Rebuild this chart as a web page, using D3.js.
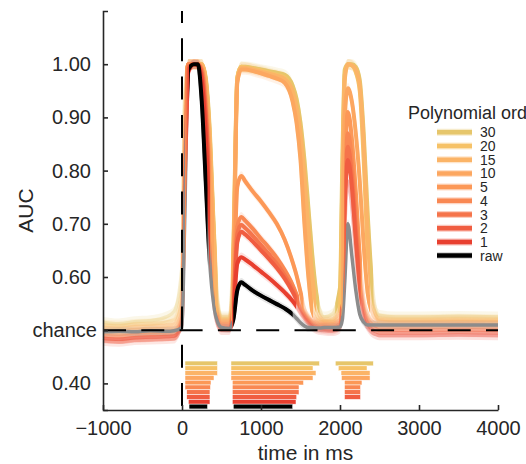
<!DOCTYPE html>
<html>
<head>
<meta charset="utf-8">
<script src="https://cdn.jsdelivr.net/npm/d3@7"></script>
<style>
  body { margin: 0; background: #fff; }
  text { font-family: "Liberation Sans", Arial, sans-serif; fill: #262626; }
</style>
</head>
<body>
<div id="chart"></div>
<script>
// time points (ms), shared by every series
var times = [-1000, -800, -600, -400, -200, -100, 0, 30, 80, 150, 200, 250, 300, 350, 400, 450, 500,
  600, 650, 700, 750, 800, 900, 1000, 1100, 1200, 1300, 1400, 1450, 1500, 1550, 1600, 1650, 1700, 1750, 1800,
  1900, 2000, 2030, 2060, 2100, 2150, 2200, 2250, 2300, 2350, 2400, 2450, 2500, 2700, 3000, 3500, 4000];

var orders = ["30", "20", "15", "10", "5", "4", "3", "2", "1", "raw"];
var colors = ["#e6c66b", "#f6c267", "#fbb467", "#fca760", "#fc9857", "#f98853", "#f5744b", "#f05d41", "#e83f2f", "#000000"];

// AUC per polynomial order
var auc30 = [0.515, 0.512, 0.516, 0.518, 0.525, 0.535, 0.62, 0.93, 1.0, 1.0, 1.0, 1.0, 0.975, 0.88, 0.70, 0.56, 0.525,
  0.525, 0.66, 0.975, 0.995, 0.995, 0.993, 0.99, 0.987, 0.984, 0.98, 0.96, 0.935, 0.89, 0.82, 0.73, 0.64, 0.57, 0.535, 0.525,
  0.53, 0.58, 0.82, 0.99, 1.0, 1.0, 0.995, 0.97, 0.87, 0.72, 0.60, 0.54, 0.528, 0.525, 0.525, 0.526, 0.525];
var auc20 = [0.51, 0.508, 0.511, 0.512, 0.515, 0.52, 0.58, 0.90, 1.0, 1.0, 1.0, 1.0, 0.97, 0.87, 0.69, 0.55, 0.522,
  0.522, 0.64, 0.975, 0.995, 0.994, 0.991, 0.988, 0.984, 0.98, 0.975, 0.945, 0.91, 0.85, 0.76, 0.65, 0.57, 0.53, 0.52, 0.518,
  0.52, 0.56, 0.78, 0.98, 1.0, 0.998, 0.985, 0.95, 0.82, 0.65, 0.56, 0.53, 0.522, 0.52, 0.52, 0.521, 0.52];
var auc15 = [0.505, 0.503, 0.506, 0.507, 0.509, 0.512, 0.56, 0.87, 1.0, 1.0, 1.0, 1.0, 0.97, 0.86, 0.68, 0.545, 0.52,
  0.52, 0.62, 0.97, 0.993, 0.993, 0.99, 0.986, 0.982, 0.978, 0.972, 0.95, 0.92, 0.87, 0.79, 0.69, 0.60, 0.545, 0.525, 0.518,
  0.517, 0.545, 0.74, 0.97, 1.0, 0.998, 0.99, 0.96, 0.85, 0.68, 0.57, 0.53, 0.52, 0.518, 0.518, 0.519, 0.518];
var auc10 = [0.50, 0.498, 0.501, 0.502, 0.503, 0.505, 0.54, 0.84, 1.0, 1.0, 1.0, 0.995, 0.95, 0.83, 0.64, 0.535, 0.518,
  0.518, 0.61, 0.965, 0.99, 0.99, 0.987, 0.983, 0.978, 0.973, 0.965, 0.93, 0.89, 0.82, 0.70, 0.60, 0.535, 0.52, 0.516, 0.515,
  0.515, 0.53, 0.68, 0.90, 0.955, 0.93, 0.87, 0.78, 0.66, 0.57, 0.535, 0.522, 0.517, 0.515, 0.515, 0.516, 0.515];
var auc5 = [0.495, 0.493, 0.496, 0.497, 0.498, 0.499, 0.53, 0.80, 1.0, 1.0, 1.0, 0.99, 0.93, 0.79, 0.61, 0.53, 0.515,
  0.515, 0.57, 0.77, 0.79, 0.78, 0.76, 0.742, 0.722, 0.70, 0.67, 0.628, 0.603, 0.572, 0.54, 0.525, 0.518, 0.515, 0.513, 0.512,
  0.512, 0.52, 0.60, 0.80, 0.91, 0.86, 0.76, 0.64, 0.56, 0.53, 0.518, 0.513, 0.51, 0.51, 0.51, 0.511, 0.51];
var auc4 = [0.49, 0.488, 0.491, 0.492, 0.493, 0.494, 0.525, 0.78, 1.0, 1.0, 1.0, 0.99, 0.92, 0.77, 0.59, 0.525, 0.512,
  0.512, 0.555, 0.695, 0.713, 0.706, 0.69, 0.672, 0.655, 0.636, 0.613, 0.585, 0.567, 0.548, 0.532, 0.522, 0.515, 0.512, 0.51, 0.51,
  0.509, 0.515, 0.59, 0.77, 0.87, 0.82, 0.72, 0.61, 0.545, 0.522, 0.512, 0.508, 0.505, 0.505, 0.505, 0.506, 0.505];
var auc3 = [0.485, 0.483, 0.486, 0.487, 0.488, 0.489, 0.52, 0.76, 0.995, 1.0, 1.0, 0.985, 0.91, 0.76, 0.58, 0.52, 0.508,
  0.508, 0.55, 0.68, 0.698, 0.692, 0.677, 0.66, 0.643, 0.625, 0.603, 0.577, 0.561, 0.543, 0.529, 0.519, 0.512, 0.508, 0.506, 0.506,
  0.505, 0.512, 0.58, 0.75, 0.845, 0.79, 0.69, 0.595, 0.538, 0.516, 0.507, 0.503, 0.50, 0.50, 0.50, 0.501, 0.50];
var auc2 = [0.48, 0.478, 0.481, 0.482, 0.483, 0.484, 0.515, 0.74, 0.99, 1.0, 1.0, 0.98, 0.90, 0.75, 0.57, 0.515, 0.504,
  0.504, 0.545, 0.665, 0.685, 0.68, 0.666, 0.65, 0.634, 0.617, 0.597, 0.572, 0.557, 0.54, 0.526, 0.516, 0.509, 0.505, 0.503, 0.502,
  0.501, 0.508, 0.575, 0.73, 0.82, 0.77, 0.67, 0.585, 0.533, 0.512, 0.502, 0.498, 0.495, 0.495, 0.495, 0.496, 0.495];
var auc1 = [0.485, 0.483, 0.486, 0.487, 0.488, 0.489, 0.51, 0.72, 0.985, 1.0, 0.998, 0.97, 0.87, 0.71, 0.555, 0.51, 0.50,
  0.50, 0.535, 0.625, 0.637, 0.633, 0.622, 0.61, 0.598, 0.585, 0.571, 0.555, 0.545, 0.533, 0.522, 0.513, 0.506, 0.502, 0.50, 0.499,
  0.498, 0.503, 0.56, 0.69, 0.78, 0.73, 0.64, 0.565, 0.522, 0.505, 0.496, 0.492, 0.49, 0.49, 0.49, 0.491, 0.49];
var aucRaw = [0.497, 0.498, 0.497, 0.499, 0.498, 0.499, 0.505, 0.68, 0.99, 1.0, 1.0, 0.93, 0.78, 0.63, 0.55, 0.515, 0.505,
  0.503, 0.52, 0.575, 0.59, 0.585, 0.574, 0.565, 0.557, 0.549, 0.541, 0.53, 0.522, 0.514, 0.508, 0.505, 0.505, 0.504, 0.504, 0.505,
  0.505, 0.506, 0.52, 0.59, 0.70, 0.64, 0.575, 0.53, 0.515, 0.51, 0.51, 0.51, 0.51, 0.51, 0.51, 0.51, 0.51];

// standard error per series (half width of the shaded band)
var sem = [0.010, 0.010, 0.010, 0.010, 0.009, 0.009, 0.009, 0.009, 0.009, 0.008];

// significant time windows (ms) per series
var sig30 = [[38, 449], [620, 1740], [1940, 2422]];
var sig20 = [[38, 449], [620, 1658], [1978, 2342]];
var sig15 = [[38, 449], [620, 1696], [2013, 2380]];
var sig10 = [[38, 405], [620, 1658], [2019, 2380]];
var sig5 = [[38, 367], [637, 1538], [2057, 2278]];
var sig4 = [[38, 360], [637, 1481], [2057, 2260]];
var sig3 = [[60, 354], [637, 1481], [2057, 2260]];
var sig2 = [[60, 354], [637, 1452], [2057, 2260]];
var sig1 = [[80, 354], [637, 1443]];
var sigRaw = [[89, 323], [649, 1401]];

var xTicks = [-1000, 0, 1000, 2000, 3000, 4000];
var yTicks = [0.4, 0.5, 0.6, 0.7, 0.8, 0.9, 1.0];

var aucSeries = [auc30, auc20, auc15, auc10, auc5, auc4, auc3, auc2, auc1, aucRaw];
var sigSeries = [sig30, sig20, sig15, sig10, sig5, sig4, sig3, sig2, sig1, sigRaw];

var series = orders.map(function(o, i) {
  return {
    name: o, color: colors[i], sem: sem[i], sig: sigSeries[i],
    values: times.map(function(t, j) { return {t: t, v: aucSeries[i][j]}; })
  };
});

var W = 526, H = 464;
var svg = d3.select("#chart").append("svg")
  .attr("width", W).attr("height", H);

var x = d3.scaleLinear().domain([-1000, 4000]).range([103, 498]);
var y = d3.scaleLinear().domain([0.35, 1.10]).range([410, 11]);

var line = d3.line()
  .curve(d3.curveMonotoneX)
  .x(function(d) { return x(d.t); })
  .y(function(d) { return y(d.v); });

var area = d3.area()
  .curve(d3.curveMonotoneX)
  .x(function(d) { return x(d.t); });

/****** CLIP PATHS FOR SIGNIFICANT WINDOWS ******/
var defs = svg.append("defs");
series.forEach(function(s, i) {
  defs.append("clipPath").attr("id", "sig" + i)
    .selectAll("rect").data(s.sig).enter().append("rect")
      .attr("x", function(d) { return x(d[0]); })
      .attr("width", function(d) { return x(d[1]) - x(d[0]); })
      .attr("y", 0).attr("height", H);
});

/****** RIBBONS + FADED LINES ******/
var gLines = svg.append("g");
series.forEach(function(s) {
  gLines.append("path")
    .datum(s.values)
    .attr("d", area.y0(function(d) { return y(d.v - s.sem); }).y1(function(d) { return y(d.v + s.sem); }))
    .attr("fill", s.name == "raw" ? "#aaa" : s.color)
    .attr("opacity", s.name == "raw" ? 0.3 : 0.15);
});
series.forEach(function(s) {
  gLines.append("path")
    .datum(s.values)
    .attr("d", line)
    .attr("fill", "none")
    .attr("stroke", s.name == "raw" ? "#8c8c8c" : s.color)
    .attr("stroke-width", 3.5)
    .attr("stroke-opacity", s.name == "raw" ? 1 : 0.32);
});
// significant parts in full colour
series.forEach(function(s, i) {
  gLines.append("path")
    .datum(s.values)
    .attr("d", line)
    .attr("fill", "none")
    .attr("stroke", s.color)
    .attr("stroke-width", 4)
    .attr("clip-path", "url(#sig" + i + ")");
});

/****** SIGNIFICANCE BARS ******/
var rows = d3.scaleBand().domain(orders).range([y(0.442), y(0.352)]);
var gBars = svg.append("g");
series.forEach(function(s) {
  gBars.selectAll(null).data(s.sig).enter().append("rect")
    .attr("x", function(d) { return x(d[0]); })
    .attr("width", function(d) { return x(d[1]) - x(d[0]); })
    .attr("y", rows(s.name))
    .attr("height", rows.bandwidth())
    .attr("fill", s.color)
    .attr("stroke", "#fff")
    .attr("stroke-width", 0.5);
});

/****** REFERENCE LINES ******/
svg.append("line")
  .attr("x1", x(-1000)).attr("x2", x(4000))
  .attr("y1", y(0.5)).attr("y2", y(0.5))
  .attr("stroke", "#000").attr("stroke-width", 2)
  .attr("stroke-dasharray", "23,15.3");
svg.append("line")
  .attr("x1", x(0)).attr("x2", x(0))
  .attr("y1", y(1.10)).attr("y2", y(0.35))
  .attr("stroke", "#000").attr("stroke-width", 2)
  .attr("stroke-dasharray", "23,15.3")
  .attr("stroke-dashoffset", 11);

/****** AXES ******/
var xAxis = svg.append("g")
  .attr("transform", "translate(0," + y(0.35) + ")")
  .call(d3.axisBottom(x).tickValues(xTicks).tickFormat(d3.format("d")).tickSizeInner(-5).tickSizeOuter(0).tickPadding(11));
var yAxis = svg.append("g")
  .attr("transform", "translate(" + x(-1000) + ",0)")
  .call(d3.axisLeft(y).tickValues(yTicks)
    .tickFormat(function(d) { return d == 0.5 ? "chance" : d3.format(".2f")(d); })
    .tickSizeInner(-5).tickSizeOuter(-5).tickPadding(12));
yAxis.selectAll(".tick text").filter(function(d) { return d == 0.5; }).attr("x", -6);

[xAxis, yAxis].forEach(function(a) {
  a.select(".domain").attr("stroke", "#262626").attr("stroke-width", 1.6);
  a.selectAll(".tick line").attr("stroke", "#262626").attr("stroke-width", 1.6);
  a.selectAll(".tick text").style("font-size", "20px").attr("fill", "#262626")
    .style("font-family", "'Liberation Sans', Arial, sans-serif");
});

svg.append("text")
  .attr("x", (x(-1000) + x(4000)) / 2 + 5)
  .attr("y", 460)
  .attr("text-anchor", "middle")
  .style("font-size", "21px")
  .text("time in ms");

svg.append("text")
  .attr("transform", "translate(33," + (y(0.35) + y(1.10)) / 2 + ") rotate(-90)")
  .attr("text-anchor", "middle")
  .style("font-size", "21px")
  .text("AUC");

/****** LEGEND ******/
var legend = svg.append("g").attr("transform", "translate(408,0)");
legend.append("text")
  .attr("x", 0).attr("y", 119)
  .style("font-size", "18px")
  .text("Polynomial order");
var item = legend.selectAll("g.item").data(series).enter().append("g")
  .attr("class", "item")
  .attr("transform", function(d, i) { return "translate(0," + (132.3 + i * 13.7) + ")"; });
item.append("line")
  .attr("x1", 29).attr("x2", 64)
  .attr("stroke", function(d) { return d.name == "raw" ? "#999" : d.color; })
  .attr("stroke-opacity", 0.35)
  .attr("stroke-width", 7);
item.append("line")
  .attr("x1", 29).attr("x2", 64)
  .attr("stroke", function(d) { return d.color; })
  .attr("stroke-width", 4.5);
item.append("text")
  .attr("x", 72).attr("y", 5)
  .style("font-size", "14px")
  .text(function(d) { return d.name; });
</script>
</body>
</html>
